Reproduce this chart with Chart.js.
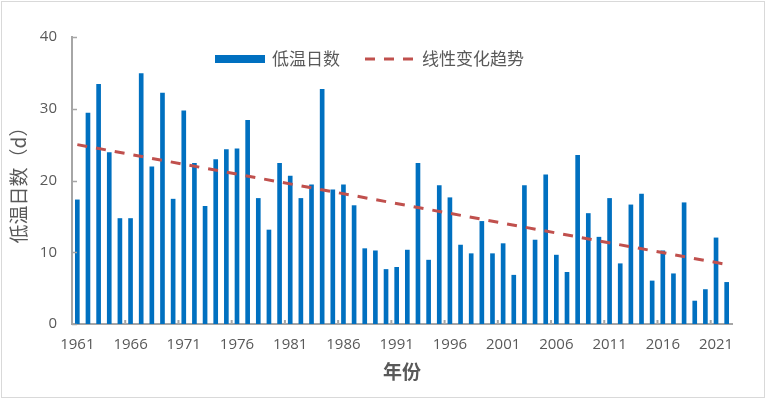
<!DOCTYPE html>
<html><head><meta charset="utf-8">
<script src="https://cdn.jsdelivr.net/npm/chart.js@4/dist/chart.umd.min.js"></script>
<style>
html,body{margin:0;padding:0;background:#fff;}
#wrap{position:relative;width:768px;height:398px;}
#frame{position:absolute;left:1px;top:1px;width:764px;height:397px;border:1px solid #d9d9d9;box-sizing:border-box;pointer-events:none;}
canvas{position:absolute;left:0;top:0;}
</style></head><body>
<div id="wrap"><canvas id="c" width="768" height="398"></canvas><div id="frame"></div></div>
<script>
// Categories (years)
const years = ['1961','1962','1963','1964','1965','1966','1967','1968','1969','1970',
  '1971','1972','1973','1974','1975','1976','1977','1978','1979','1980',
  '1981','1982','1983','1984','1985','1986','1987','1988','1989','1990',
  '1991','1992','1993','1994','1995','1996','1997','1998','1999','2000',
  '2001','2002','2003','2004','2005','2006','2007','2008','2009','2010',
  '2011','2012','2013','2014','2015','2016','2017','2018','2019','2020',
  '2021','2022'];
// 低温日数 (days)
const lowTempDays = [17.3,29.4,33.4,23.9,14.7,14.7,34.9,21.9,32.2,17.4,
  29.7,22.4,16.4,22.9,24.3,24.4,28.4,17.5,13.1,22.4,
  20.6,17.5,19.4,32.7,18.7,19.4,16.5,10.5,10.2,7.6,
  7.9,10.3,22.4,8.9,19.3,17.6,11.0,9.8,14.3,9.8,
  11.2,6.8,19.3,11.7,20.8,9.6,7.2,23.5,15.4,12.1,
  17.5,8.4,16.6,18.1,6.0,10.2,7.0,16.9,3.2,4.8,
  12.0,5.8];
// 线性变化趋势 endpoints
const trendYears = ['1961','2022'];
const trendValues = [25.0, 8.3];
// Tick labels
const xTickLabels = ['1961','1966','1971','1976','1981','1986','1991','1996','2001','2006','2011','2016','2021'];
const yTicks = [0,10,20,30,40];

const seriesNames = ['低温日数','线性变化趋势'];
const BAR_COLOR = '#0070C0';
const TREND_COLOR = '#C0504D';
const AXIS_COLOR = '#a6a6a6';
const TEXT_COLOR = '#595959';
const CJK = '"Noto Sans CJK SC", "Noto Sans", sans-serif';
const NUM = '"Open Sans", "Liberation Sans", sans-serif';

const tickMarks = {
  id: 'tickMarks',
  afterDatasetsDraw(chart) {
    const {ctx, chartArea, scales: {x, y}} = chart;
    ctx.save();
    ctx.strokeStyle = AXIS_COLOR;
    ctx.lineWidth = 1.5;
    yTicks.forEach(v => {
      const py = Math.round(y.getPixelForValue(v)) + 0.5;
      ctx.beginPath(); ctx.moveTo(chartArea.left, py); ctx.lineTo(chartArea.left + 5, py); ctx.stroke();
    });
    ctx.lineWidth = 2;
    years.forEach((yr, i) => {
      if (i > 0 && xTickLabels.includes(yr)) {
        const px = (x.getPixelForValue(i - 1) + x.getPixelForValue(i)) / 2;
        ctx.beginPath(); ctx.moveTo(px, chartArea.bottom); ctx.lineTo(px, chartArea.bottom - 4); ctx.stroke();
      }
    });
    ctx.restore();
  }
};

const insideLegend = {
  id: 'insideLegend',
  afterDraw(chart, args, opts) {
    const ctx = chart.ctx;
    const ds = chart.data.datasets;
    ctx.save();
    ctx.font = '17px ' + CJK;
    ctx.textBaseline = 'middle';
    ctx.fillStyle = TEXT_COLOR;
    let x = opts.x;
    const yc = opts.y;
    // bar item
    ctx.fillStyle = ds[0].backgroundColor;
    ctx.fillRect(x, yc - 4, 50, 8);
    x += 57;
    ctx.fillStyle = TEXT_COLOR;
    ctx.fillText(ds[0].label, x, yc);
    x += ctx.measureText(ds[0].label).width + 25;
    // line item
    ctx.strokeStyle = ds[1].borderColor;
    ctx.lineWidth = ds[1].borderWidth;
    ctx.setLineDash(ds[1].borderDash);
    ctx.beginPath(); ctx.moveTo(x, yc); ctx.lineTo(x + 50, yc); ctx.stroke();
    ctx.setLineDash([]);
    x += 57;
    ctx.fillText(ds[1].label, x, yc);
    ctx.restore();
  }
};

new Chart(document.getElementById('c'), {
  type: 'bar',
  data: {
    labels: years,
    datasets: [
      {
        type: 'bar',
        label: seriesNames[0],
        data: lowTempDays,
        backgroundColor: BAR_COLOR,
        borderWidth: 0,
        barThickness: 4,
        order: 1
      },
      {
        type: 'line',
        label: seriesNames[1],
        data: trendYears.map((yr, i) => ({x: yr, y: trendValues[i]})),
        borderColor: TREND_COLOR,
        borderWidth: 3,
        borderDash: [10, 9],
        pointRadius: 0,
        fill: false,
        tension: 0,
        order: 0
      }
    ]
  },
  options: {
    responsive: false,
    animation: false,
    layout: {padding: {top: 37, right: 36, bottom: 0, left: 0}},
    plugins: {
      legend: {display: false},
      tooltip: {enabled: false},
      insideLegend: {x: 215, y: 59}
    },
    scales: {
      x: {
        type: 'category',
        offset: true,
        grid: {display: false, drawTicks: false},
        border: {display: true, color: AXIS_COLOR, width: 2},
        ticks: {
          autoSkip: false, maxRotation: 0, minRotation: 0, padding: 12,
          font: {family: NUM, size: 15}, color: TEXT_COLOR,
          callback: (v, i) => xTickLabels.includes(years[i]) ? years[i] : ''
        },
        title: {display: true, text: '年份', color: TEXT_COLOR,
          font: {family: CJK, size: 19, weight: 'bold'}, padding: {top: 0, bottom: 15}},
        afterFit: s => { s.height = 74; }
      },
      y: {
        min: 0, max: 40,
        grid: {display: false, drawTicks: false},
        border: {display: true, color: AXIS_COLOR, width: 2},
        ticks: {stepSize: 10, padding: 15, font: {family: NUM, size: 15}, color: TEXT_COLOR},
        title: {display: true, text: '低温日数（d）', color: TEXT_COLOR,
          font: {family: CJK, size: 19}, padding: {top: 7, bottom: 0}},
        afterFit: s => { s.width = 72; }
      }
    }
  },
  plugins: [tickMarks, insideLegend]
});
</script>
</body></html>
